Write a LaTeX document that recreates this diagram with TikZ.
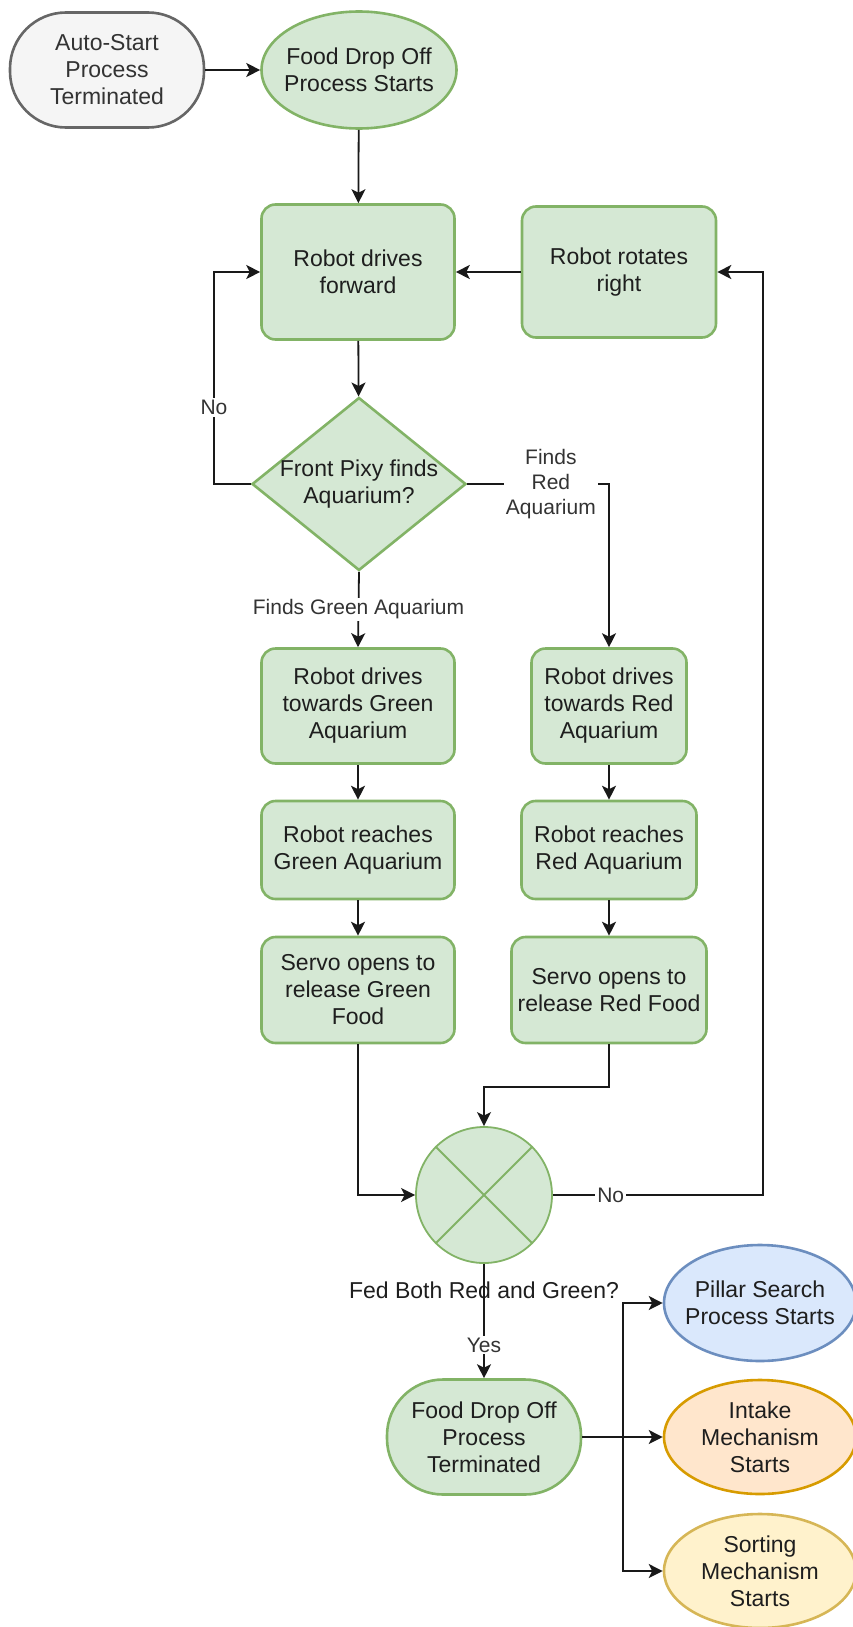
\documentclass[tikz,border=0pt]{standalone}
\usepackage{fontspec}
\setmainfont{Liberation Sans}
\usetikzlibrary{shapes.geometric,arrows.meta}
\definecolor{gfill}{HTML}{D5E8D4}
\definecolor{gline}{HTML}{82B366}
\definecolor{grayfill}{HTML}{F5F5F5}
\definecolor{grayline}{HTML}{666666}
\definecolor{graytext}{HTML}{333333}
\definecolor{bfill}{HTML}{DAE8FC}
\definecolor{bline}{HTML}{6C8EBF}
\definecolor{ofill}{HTML}{FFE6CC}
\definecolor{oline}{HTML}{D79B00}
\definecolor{yfill}{HTML}{FFF2CC}
\definecolor{yline}{HTML}{D6B656}
\definecolor{txt}{HTML}{1E1E1E}
\begin{document}
\begin{tikzpicture}[x=1pt,y=-1pt,
  nodetext/.style={font=\fontsize{23}{27}\selectfont, text=txt, align=center},
  stepbox/.style={nodetext, draw=gline, fill=gfill, line width=2.6pt, rounded corners=14pt, inner sep=0pt, minimum width=193pt},
  oval/.style={nodetext, ellipse, line width=2.6pt, inner sep=-30pt, minimum width=195pt, minimum height=117pt},
  stadium/.style={nodetext, rectangle, rounded corners=56pt, line width=2.6pt, inner sep=0pt, minimum width=194pt, minimum height=115pt},
  dec/.style={nodetext, diamond, draw=gline, fill=gfill, line width=2.6pt, inner sep=-40pt, minimum width=214pt, minimum height=173pt},
  lbl/.style={font=\fontsize{21}{25}\selectfont, text=graytext, fill=white, inner sep=2pt, align=center},
  arr/.style={draw=black!90, line width=1.8pt, -{Stealth[length=14pt,width=14pt,inset=3.5pt]}}
]
\useasboundingbox (0,0) rectangle (852,1627);

% nodes
\node[stadium, draw=grayline, fill=grayfill, text=graytext] (auto) at (107,70) {Auto-Start\\Process\\Terminated};
\node[oval, draw=gline, fill=gfill] (start) at (359,70) {Food Drop Off\\Process Starts};
\node[stepbox, minimum height=135pt] (fwd) at (358,272) {Robot drives\\forward};
\node[stepbox, minimum width=194pt, minimum height=131pt] (rot) at (619,272) {Robot rotates\\right};
\node[dec] (dec) at (359,484) {Front Pixy finds\\Aquarium?};

\node[stepbox, minimum height=115pt] (gdrive) at (358,706) {Robot drives\\towards Green\\Aquarium};
\node[stepbox, minimum height=98pt] (greach) at (358,850) {Robot reaches\\Green Aquarium};
\node[stepbox, minimum height=106pt] (gservo) at (358,990) {Servo opens to\\release Green\\Food};

\node[stepbox, minimum width=155pt, minimum height=115pt] (rdrive) at (609,706) {Robot drives\\towards Red\\Aquarium};
\node[stepbox, minimum width=175pt, minimum height=98pt] (rreach) at (609,850) {Robot reaches\\Red Aquarium};
\node[stepbox, minimum width=195pt, minimum height=106pt] (rservo) at (609,990) {Servo opens to\\release Red Food};

\node[circle, draw=gline, fill=gfill, line width=1.8pt, minimum size=136pt, inner sep=0pt] (circ) at (484,1195) {};
\draw[gline, line width=1.8pt] (circ.45) -- (circ.225) (circ.135) -- (circ.-45);

\node[stadium, draw=gline, fill=gfill] (term) at (484,1437) {Food Drop Off\\Process\\Terminated};

\node[oval, draw=bline, fill=bfill, minimum width=192pt, minimum height=116pt] (pillar) at (760,1303) {Pillar Search\\Process Starts};
\node[oval, draw=oline, fill=ofill, minimum width=192pt, minimum height=114pt] (intake) at (760,1437) {Intake\\Mechanism\\Starts};
\node[oval, draw=yline, fill=yfill, minimum width=192pt, minimum height=114pt] (sorting) at (760,1571) {Sorting\\Mechanism\\Starts};

% helper coordinates
\coordinate (rx) at (763,0);
\coordinate (lx) at (214,0);
\coordinate (jy) at (0,1087);
\coordinate (bx) at (623,0);

% connectors
\draw[arr] (auto) -- (start);
\draw[arr] (start) -- (fwd);
\draw[arr] (rot) -- (fwd);
\draw[arr] (fwd) -- (dec);
\draw[arr] (dec.west) -- (dec.west -| lx) -- node[lbl, pos=0.36] {No} (fwd.west -| lx) -- (fwd.west);
\draw[arr] (dec.east) -- node[lbl, pos=0.59] {Finds\\Red\\Aquarium} (dec.east -| rdrive) -- (rdrive.north);
\draw[arr] (dec.south) -- node[lbl] {Finds Green Aquarium} (gdrive.north);
\draw[arr] (gdrive) -- (greach);
\draw[arr] (greach) -- (gservo);
\draw[arr] (rdrive) -- (rreach);
\draw[arr] (rreach) -- (rservo);
\draw[arr] (gservo.south) -- (gservo.south |- circ.west) -- (circ.west);
\draw[arr] (rservo.south) -- (rservo.south |- jy) -| (circ.north);
\draw[arr] (circ.east) -- node[lbl, pos=0.275] {No} (circ.east -| rx) |- (rot.east);
\node[nodetext] (fedlbl) at (484,1290) {Fed Both Red and Green?};
\draw[arr] (circ.south) -- node[lbl, pos=0.71] {Yes} (term.north);
\draw[arr] (term.east) -- (intake.west);
\draw[arr] (term.east -| bx) |- (pillar.west);
\draw[arr] (term.east -| bx) |- (sorting.west);
\end{tikzpicture}
\end{document}
